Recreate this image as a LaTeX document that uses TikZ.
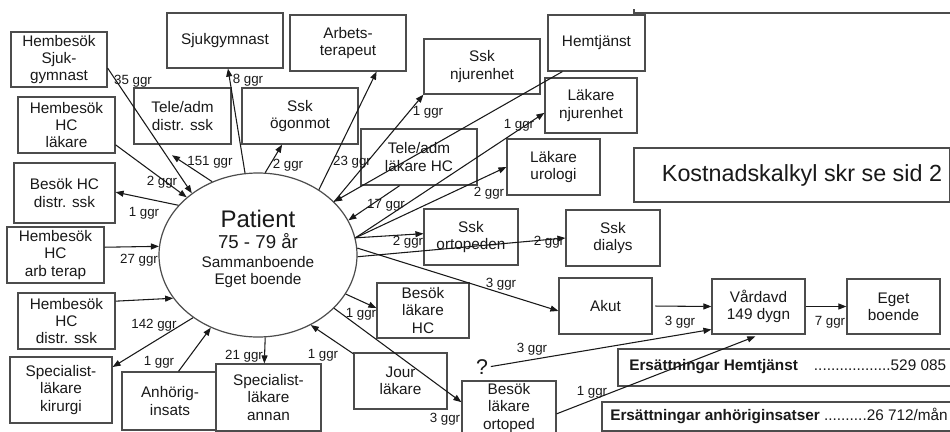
\documentclass[tikz,border=0pt]{standalone}
\usepackage{fontspec}
\setmainfont{Liberation Sans}
\usetikzlibrary{arrows.meta,shapes.geometric}
\newcommand\bxnode[6]{\node[box, minimum width={(#4-#2)*0.75pt}, minimum height={(#5-#3)*0.75pt}] (#1) at ({(#2+#4)/2},{(#3+#5)/2}) {#6};}
\tikzset{
  box/.style={draw=black!70, line width=0.9pt, fill=white, inner sep=0pt, align=center,
    font=\fontsize{11.5}{13}\selectfont, text=black!90},
  arr/.style={-{Triangle[length=6pt,width=4.5pt]}, line width=0.8pt, draw=black!90},
  lbl/.style={font=\fontsize{10}{11}\selectfont, inner sep=0pt, text=black!90},
  ptx/.style={anchor=base, inner sep=0pt, text=black!90}
}
\begin{document}
\begin{tikzpicture}[x=0.75pt, y=-0.75pt]
\useasboundingbox (0,0) rectangle (950,432);
% top line
\draw[black!70, line width=0.9pt] (634,9) -- (634,13) -- (950,13);
% patient
\node[draw=black!70, line width=0.9pt, ellipse, minimum width=148.5pt, minimum height=123pt, inner sep=0pt] (pat) at (258,255) {};
\node[ptx, font=\fontsize{18}{18}\selectfont] (pt1) at (258,227) {Patient};
\node[ptx, font=\fontsize{14}{14}\selectfont] (pt2) at (258,248) {75 - 79 år};
\node[ptx, font=\fontsize{11.5}{12}\selectfont] (pt3) at (258,267) {Sammanboende};
\node[ptx, font=\fontsize{11.5}{12}\selectfont] (pt4) at (258,284) {Eget boende};
% boxes
\bxnode{hsj}{11}{32}{107}{87}{Hembesök\\Sjuk-\\gymnast}
\bxnode{sjg}{167}{13}{283}{68}{Sjukgymnast}
\bxnode{arb}{290}{15}{406}{71}{Arbets-\\terapeut}
\bxnode{hhl}{18}{97}{115}{153}{Hembesök\\HC\\läkare}
\bxnode{tds}{134}{88}{231}{144}{Tele/adm\\distr. ssk}
\bxnode{sog}{242}{88}{358}{144}{Ssk\\ögonmot}
\bxnode{bhd}{14}{163}{115}{223}{Besök HC\\distr. ssk}
\bxnode{snj}{424}{39}{540}{94}{Ssk\\njurenhet}
\bxnode{hem}{548}{15}{645}{71}{Hemtjänst}
\bxnode{lnj}{545}{78}{637}{133}{Läkare\\njurenhet}
\bxnode{tlh}{361}{129}{477}{185}{Tele/adm\\läkare HC}
\bxnode{lur}{507}{139}{600}{195}{Läkare\\urologi}
\bxnode{kbox}{634}{148}{950}{202}{}
\node[inner sep=0pt, font=\fontsize{17.5}{18}\selectfont, text=black!90] (ktxt) at (802,175) {Kostnadskalkyl skr se sid 2};
\bxnode{hha}{7}{227}{104}{283}{Hembesök\\HC\\arb terap}
\bxnode{hhd}{18}{293}{115}{349}{Hembesök\\HC\\distr. ssk}
\bxnode{slk}{10}{357}{112}{423}{Specialist-\\läkare\\kirurgi}
\bxnode{anh}{122}{372}{218}{430}{Anhörig-\\insats}
\bxnode{sla}{216}{364}{321}{431}{Specialist-\\läkare\\annan}
\bxnode{sor}{424}{209}{518}{265}{Ssk\\ortopeden}
\bxnode{sdi}{566}{210}{660}{266}{Ssk\\dialys}
\bxnode{blh}{377}{283}{469}{338}{Besök\\läkare\\HC}
\bxnode{aku}{559}{278}{652}{334}{Akut}
\bxnode{vrd}{712}{279}{805}{334}{Vårdavd\\149 dygn}
\bxnode{egb}{847}{279}{940}{334}{Eget\\boende}
\bxnode{jou}{354}{353}{447}{409}{Jour\\läkare}
\bxnode{blo}{462}{381}{556}{435}{Besök\\läkare\\ortoped}
\bxnode{ehb}{618}{349}{953}{386}{}
\node[anchor=west, inner sep=0pt, font=\fontsize{11.5}{12}\selectfont, text=black!90] (eht) at (629,367)
  {\textbf{Ersättningar Hemtjänst}\hspace{12pt}..................529 085};
\bxnode{eab}{602}{402}{953}{431}{}
\node[anchor=west, inner sep=0pt, font=\fontsize{11.5}{12}\selectfont, text=black!90] (eat) at (610,416)
  {\textbf{Ersättningar anhöriginsatser} ..........26 712/mån};
\node[inner sep=0pt, font=\fontsize{16}{16}\selectfont, text=black!90] (qm) at (482,367) {?};
% arrows
\draw[arr] (hsj.-10) -- (pat.137.6);
\draw[arr] (pat.99.3) -- (sjg.-84);
\draw[arr] (hhl.-22.4) -- (pat.141.2);
\draw[arr, shorten >=14.5pt] (pat.122) -- (tds.-133.4);
\draw[arr] (pat.85.2) -- (sog.-122.2);
\draw[arr] (pat.148.6) -- (bhd.1);
\draw[arr] (pat.47.5) -- (arb.-45);
\draw[arr] (pat.35) -- (snj.south west);
\draw[arr] (hem.-140.1) -- (pat.35);
\draw[arr] (pat.10) -- (lnj.189);
\draw[arr] (tlh.-124.2) -- (pat.21.9);
\draw[arr] (pat.10) -- (lur.west);
\draw[arr] (pat.10) -- (sor.176.3);
\draw[arr] (pat.-1) -- (sdi.west);
\draw[arr] (pat.4) -- (aku.186.1);
\draw[arr] (pat.-24.2) -- (blh.177);
\draw[arr] (pat.-35.5) -- (blo.173.8);
\draw[arr] (jou.150) -- (pat.-53.4);
\draw[arr] (pat.-85.8) -- (sla.97.7);
\draw[arr] (anh.74.6) -- (pat.-123);
\draw[arr] (pat.-136.3) -- (slk.24.3);
\draw[arr] (hhd.22.4) -- (pat.207.1);
\draw[arr] (hha.9.4) -- (pat.175.3);
\draw[arr, shorten <=2pt] (aku.east) -- (vrd.west);
\draw[arr] (vrd.east) -- (egb.west);
\draw[arr, shorten <=2pt] (qm.east) -- (vrd.206.8);
\draw[arr, shorten >=3.75pt] (blo.-7.3) -- (vrd.-87);
% labels
\node[lbl] (l1) at (133,81) {35 ggr};
\node[lbl] (l2) at (248,80) {8 ggr};
\node[lbl] (l3) at (210,162) {151 ggr};
\node[lbl] (l4) at (288,165) {2 ggr};
\node[lbl] (l5) at (162,182) {2 ggr};
\node[lbl] (l6) at (144,213) {1 ggr};
\node[lbl] (l7) at (352,162) {23 ggr};
\node[lbl] (l8) at (428,112) {1 ggr};
\node[lbl] (l9) at (519,125) {1 ggr};
\node[lbl] (l10) at (386,205) {17 ggr};
\node[lbl] (l11) at (489,193) {2 ggr};
\node[lbl] (l12) at (408,242) {2 ggr};
\node[lbl] (l13) at (549,242) {2 ggr};
\node[lbl] (l14) at (501,284) {3 ggr};
\node[lbl] (l15) at (361,314) {1 ggr};
\node[lbl] (l16) at (445,419) {3 ggr};
\node[lbl] (l17) at (323,355) {1 ggr};
\node[lbl] (l18) at (244,356) {21 ggr};
\node[lbl] (l19) at (159,362) {1 ggr};
\node[lbl] (l20) at (154,325) {142 ggr};
\node[lbl] (l21) at (139,260) {27 ggr};
\node[lbl] (l22) at (532,349) {3 ggr};
\node[lbl] (l23) at (592,392) {1 ggr};
\node[lbl] (l24) at (680,322) {3 ggr};
\node[lbl] (l25) at (830,322) {7 ggr};
\end{tikzpicture}
\end{document}
